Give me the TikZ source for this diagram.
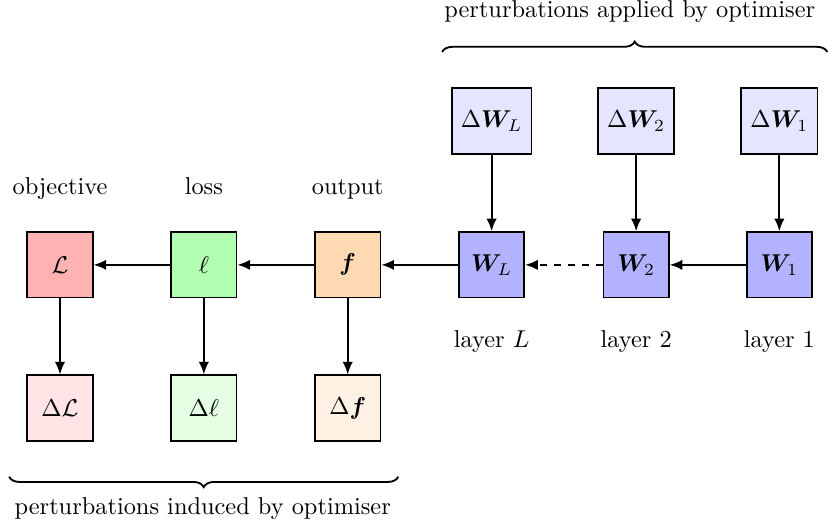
\RequirePackage{fix-cm}
\documentclass[tikz,border=0pt]{standalone}
\usepackage{amsmath,bm}
\usetikzlibrary{decorations.pathreplacing,arrows.meta}
\tikzset{
  box/.style={draw, thick, minimum size=1cm, inner sep=4pt},
  flow/.style={thick, -{Latex[length=5.5pt,width=4.5pt]}},
  lbl/.style={anchor=base, inner sep=0pt},
  brc/.style={thick, decorate, decoration={brace, amplitude=4.5pt}},
}
\begin{document}
\begin{tikzpicture}[font=\fontsize{10.6}{12.7}\selectfont]
\useasboundingbox (0,0) rectangle (12.661,-8.058);

% middle row: objective, loss, output and the layer weights
\node[box, fill=red!30]    (L)  at (0.917,-4.05)  {$\mathcal{L}$};
\node[box, fill=green!30]  (l)  at (3.117,-4.05)  {$\ell$};
\node[box, fill=orange!30] (f)  at (5.317,-4.05)  {$\bm{f}$};
\node[box, fill=blue!30]   (WL) at (7.517,-4.05)  {$\bm{W}_L$};
\node[box, fill=blue!30]   (W2) at (9.727,-4.05)  {$\bm{W}_2$};
\node[box, fill=blue!30]   (W1) at (11.917,-4.05) {$\bm{W}_1$};

% top row: weight perturbations
\node[box, fill=blue!10] (dWL) at (7.517,-1.85)  {$\Delta\bm{W}_L$};
\node[box, fill=blue!10] (dW2) at (9.727,-1.85)  {$\Delta\bm{W}_2$};
\node[box, fill=blue!10] (dW1) at (11.917,-1.85) {$\Delta\bm{W}_1$};

% bottom row: induced perturbations
\node[box, fill=red!10]    (dL) at (0.917,-6.24) {$\Delta\mathcal{L}$};
\node[box, fill=green!10]  (dl) at (3.117,-6.24) {$\Delta\ell$};
\node[box, fill=orange!10] (df) at (5.317,-6.24) {$\Delta\bm{f}$};

% labels
\node[lbl] (tobj) at (0.917,-2.98) {objective};
\node[lbl] (tloss) at (3.117,-2.98) {loss};
\node[lbl] (tout) at (5.317,-2.98) {output};
\node[lbl] (tlL) at (7.517,-5.31) {layer $L$};
\node[lbl] (tl2) at (9.727,-5.31) {layer 2};
\node[lbl] (tl1) at (11.917,-5.31) {layer 1};

% forward chain
\draw[flow] (W1) -- (W2);
\draw[flow, dashed] (W2) -- (WL);
\draw[flow] (WL) -- (f);
\draw[flow] (f) -- (l);
\draw[flow] (l) -- (L);

% perturbation arrows
\draw[flow] (dWL) -- (WL);
\draw[flow] (dW2) -- (W2);
\draw[flow] (dW1) -- (W1);
\draw[flow] (L) -- (dL);
\draw[flow] (l) -- (dl);
\draw[flow] (f) -- (df);

% braces
\coordinate (ba) at (6.76,-0.795);
\coordinate (bb) at (12.65,-0.795);
\draw[brc] (ba) -- (bb);
\node[lbl] (tapp) at (9.63,-0.275) {perturbations applied by optimiser};

\coordinate (bc) at (6.09,-7.29);
\coordinate (bd) at (0.14,-7.29);
\draw[brc] (bc) -- (bd);
\node[lbl] (tind) at (3.1,-7.87) {perturbations induced by optimiser};
\end{tikzpicture}
\end{document}
